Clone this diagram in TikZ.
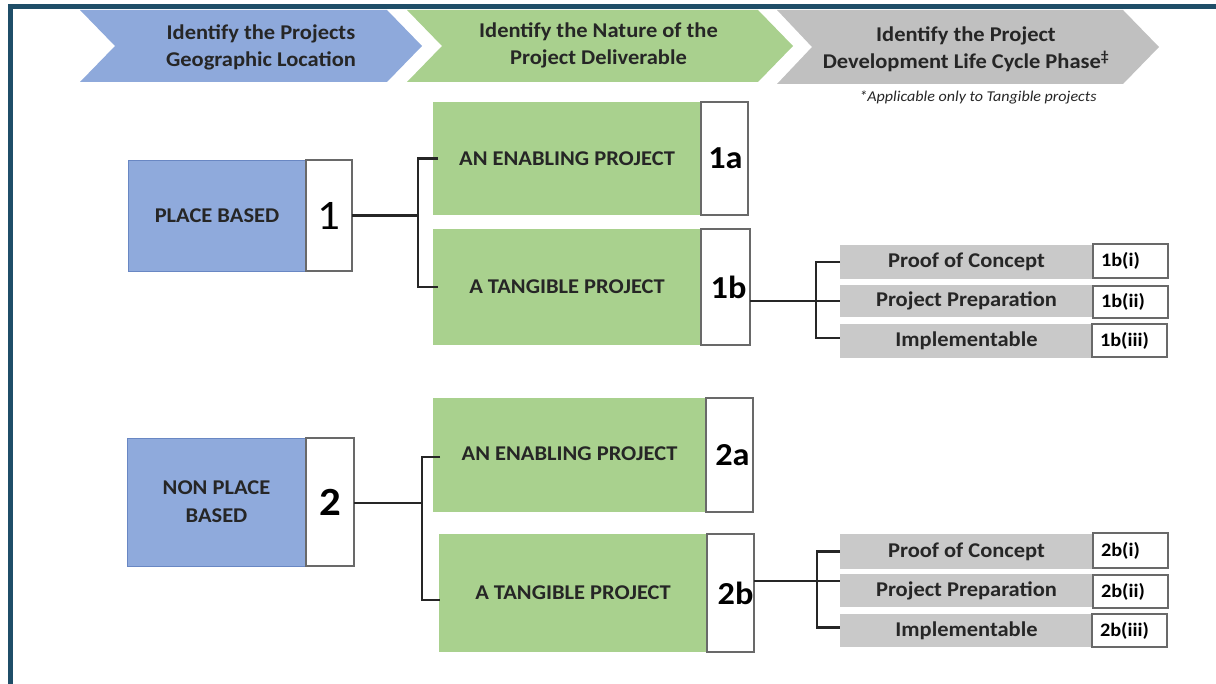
\documentclass[tikz,border=0pt]{standalone}
\usepackage{fontspec}
\setmainfont{Carlito}[FakeStretch=1.07]
\definecolor{framec}{RGB}{31,78,104}
\definecolor{hblue}{RGB}{142,169,219}
\definecolor{hgreen}{RGB}{169,208,142}
\definecolor{hgray}{RGB}{192,192,192}
\definecolor{bblue}{RGB}{143,170,220}
\definecolor{bgreen}{RGB}{169,209,142}
\definecolor{bgray}{RGB}{201,201,201}
\definecolor{txt}{RGB}{38,38,38}
\definecolor{edgec}{RGB}{105,105,105}
\definecolor{blueedge}{RGB}{105,135,195}
\begin{document}
\begin{tikzpicture}[x=1pt,y=-1pt,
  every node/.style={inner sep=0pt,outer sep=0pt},
  headtext/.style={font=\fontsize{21}{27}\selectfont\bfseries,text=txt,align=center},
  geobox/.style={fill=bblue,draw=blueedge,line width=0.8pt,font=\fontsize{21}{28}\selectfont\bfseries,text=txt,align=center},
  natbox/.style={fill=bgreen,font=\fontsize{21}{27}\selectfont\bfseries,text=txt,align=center},
  phasebox/.style={fill=bgray,font=\fontsize{21}{24}\selectfont\bfseries,text=txt,align=center,minimum width=253},
  numbox/.style={fill=white,draw=edgec,line width=1.2pt,text=black},
  bignum/.style={numbox,font=\fontsize{32}{32}\selectfont\bfseries},
  codebox/.style={numbox,font=\fontsize{19}{20}\selectfont\bfseries,inner xsep=8pt,text width=59pt,align=left},
  conn/.style={draw=black!85,line width=2.3pt}
]
\useasboundingbox (0,0) rectangle (1216,684);
% frame
\fill[framec] (8,4) rectangle (1216,9);
\fill[framec] (8,4) rectangle (13,684);
% header chevrons
\fill[hblue] (80,10) -- (387,10) -- (422,46) -- (387,82) -- (80,82) -- (115,46) -- cycle;
\fill[hgreen] (407,10) -- (758,10) -- (793,46) -- (758,82) -- (407,82) -- (442,46) -- cycle;
\fill[hgray] (777,10) -- (1123,10) -- (1159,47) -- (1123,84) -- (777,84) -- (812,47) -- cycle;
\node[headtext] (h1) at (261,47) {Identify the Projects\\Geographic Location};
\node[headtext] (h2) at (598.5,45) {Identify the Nature of the\\Project Deliverable};
\node[headtext] (h3) at (966,49.5) {Identify the Project\\Development Life Cycle Phase\textsuperscript{‡}};
\node[font=\fontsize{15}{17}\selectfont\itshape,text=txt] (note) at (978,97) {*Applicable only to Tangible projects};
% level 1
\node[geobox,minimum width=178,minimum height=111] (pb) at (217,215.5) {PLACE BASED};
\node[numbox,minimum width=46,minimum height=111,font=\fontsize{42}{42}\selectfont] (n1) at (329,215.5) {1};
\node[geobox,minimum width=179,minimum height=128] (npb) at (216.5,502) {NON PLACE\\BASED};
\node[numbox,minimum width=48,minimum height=128,font=\fontsize{40}{40}\selectfont\bfseries] (n2) at (330,502) {2};
% level 2
\node[natbox,minimum width=268,minimum height=113] (g1a) at (567,158.5) {AN ENABLING PROJECT};
\node[bignum,minimum width=47,minimum height=113] (n1a) at (724.5,158.5) {\hspace{2pt}1a};
\node[natbox,minimum width=268,minimum height=116] (g1b) at (567,287) {A TANGIBLE PROJECT};
\node[bignum,minimum width=49,minimum height=116] (n1b) at (725.5,287) {\hspace{6pt}1b};
\node[natbox,minimum width=273,minimum height=114] (g2a) at (569.5,455) {\raisebox{2pt}{AN ENABLING PROJECT}};
\node[bignum,minimum width=47,minimum height=114] (n2a) at (729.5,455) {\hspace{6pt}\raisebox{-7pt}{2a}};
\node[natbox,minimum width=268,minimum height=118] (g2b) at (573,593) {A TANGIBLE PROJECT};
\node[bignum,minimum width=47,minimum height=118] (n2b) at (730.5,593) {\hspace{10pt}2b};
% level 3 (1b)
\node[phasebox,minimum height=34] (p1b1) at (966.5,262) {Proof of Concept};
\node[phasebox,minimum height=32] (p1b2) at (966.5,301) {Project Preparation};
\node[phasebox,minimum height=34] (p1b3) at (966.5,341) {Implementable};
\node[codebox,minimum height=34] (c1b1) at (1130.5,261) {1b(i)};
\node[codebox,minimum height=32] (c1b2) at (1130.5,302) {1b(ii)};
\node[codebox,minimum height=33] (c1b3) at (1129.5,340.5) {1b(iii)};
% level 3 (2b)
\node[phasebox,minimum height=35] (p2b1) at (966.5,551.5) {Proof of Concept};
\node[phasebox,minimum height=33] (p2b2) at (966.5,590.5) {Project Preparation};
\node[phasebox,minimum height=33] (p2b3) at (966.5,630.5) {Implementable};
\node[codebox,minimum height=35] (c2b1) at (1130.5,550.5) {2b(i)};
\node[codebox,minimum height=33] (c2b2) at (1130.5,591.5) {2b(ii)};
\node[codebox,minimum height=33] (c2b3) at (1129.5,630.5) {2b(iii)};
% connector end points
\coordinate (s1a) at ([xshift=5pt]g1a.west);
\coordinate (s1b) at ([xshift=5pt]g1b.west);
\coordinate (s2a) at ([xshift=7pt,yshift=-2pt]g2a.west);
\coordinate (s2b) at ([xshift=1pt,yshift=-7pt]g2b.west);
\coordinate (t1b3) at ([yshift=3pt]p1b3.west);
\coordinate (t2b3) at ([yshift=3pt]p2b3.west);
% connectors
\coordinate (j1) at (418,215.5);
\draw[conn] (n1.east) -- (j1);
\draw[conn] (s1a) -- (j1 |- s1a) -- (j1 |- s1b) -- (s1b);
\coordinate (j2) at (422,503);
\draw[conn] (n2.east |- j2) -- (j2);
\draw[conn] (s2a) -- (j2 |- s2a) -- (j2 |- s2b) -- (s2b);
\coordinate (j3) at (816,301);
\draw[conn] (n1b.east |- p1b2.west) -- (p1b2.west);
\draw[conn] (p1b1.west) -- (j3 |- p1b1.west) -- (j3 |- t1b3) -- (t1b3);
\coordinate (j4) at (817,581);
\draw[conn] (n2b.east |- j4) -- (p2b2.west |- j4);
\draw[conn] (p2b1.west) -- (j4 |- p2b1.west) -- (j4 |- t2b3) -- (t2b3);
\end{tikzpicture}
\end{document}
